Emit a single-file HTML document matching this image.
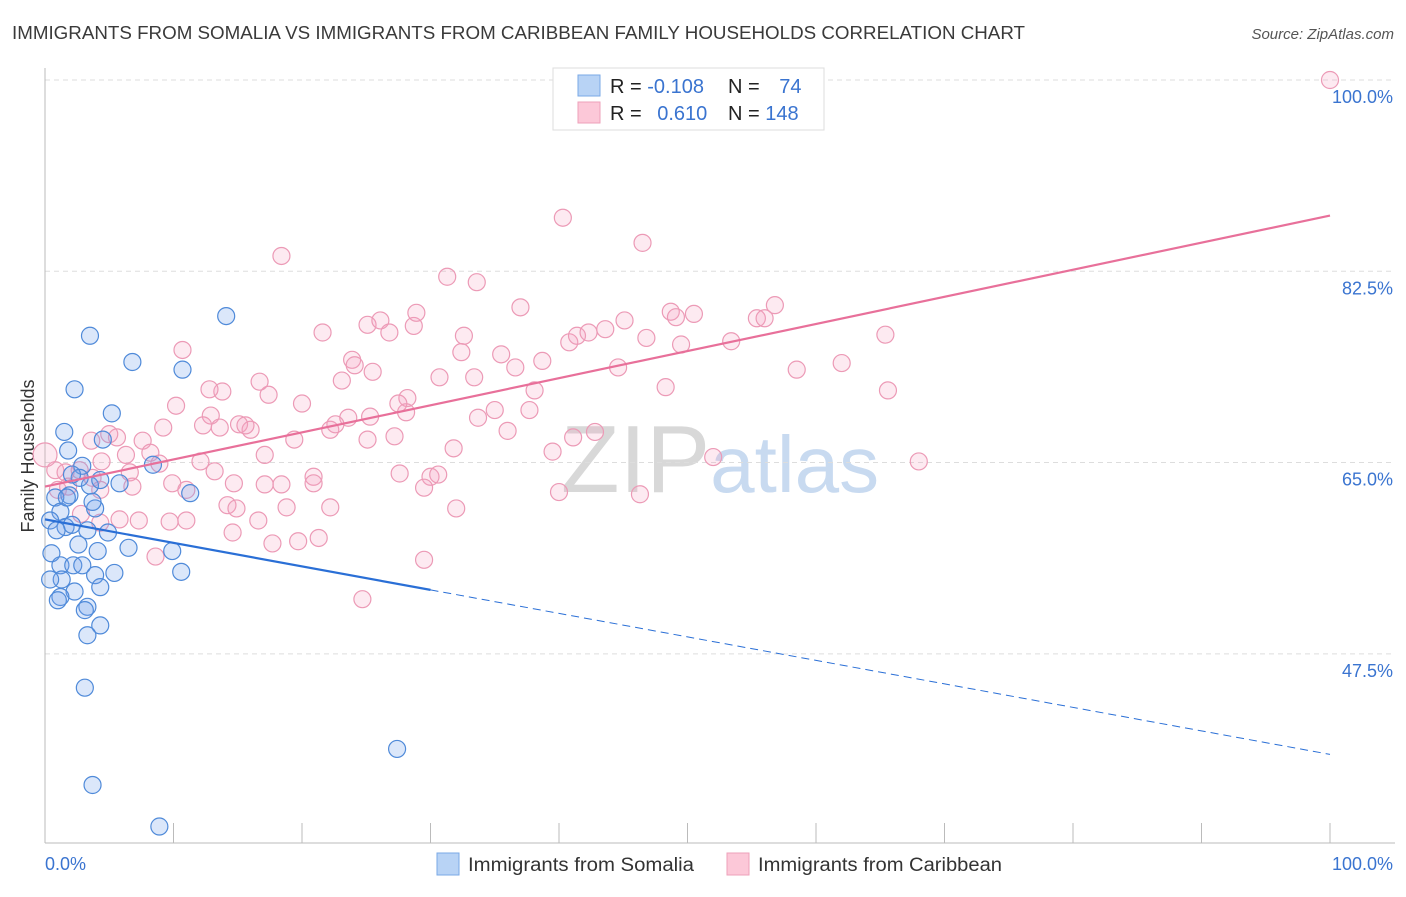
<!DOCTYPE html>
<html><head><meta charset="utf-8"><style>
body{margin:0;background:#fff;font-family:"Liberation Sans",sans-serif;}
svg text{font-family:"Liberation Sans",sans-serif;}
</style></head><body>
<svg id="chart" width="1406" height="892" viewBox="0 0 1406 892">
<text x="12" y="39" font-size="18" fill="#3a3a3a" textLength="1013" lengthAdjust="spacingAndGlyphs">IMMIGRANTS FROM SOMALIA VS IMMIGRANTS FROM CARIBBEAN FAMILY HOUSEHOLDS CORRELATION CHART</text>
<text x="1394" y="39" font-size="15" fill="#555" font-style="italic" text-anchor="end">Source: ZipAtlas.com</text>
<text x="34" y="456" font-size="18" fill="#333" text-anchor="middle" transform="rotate(-90 34 456)">Family Households</text>
<text x="720" y="492" font-size="96" fill="#d8d8d8" text-anchor="middle" font-family="Liberation Serif">ZIP<tspan fill="#c8daf0" font-family="Liberation Sans" font-size="80">atlas</tspan></text>
<g id="grid"></g><g id="axes"></g><g id="pts"></g><g id="lines"></g>
<g>
<rect x="553" y="68" width="271" height="62" fill="#fff" stroke="#ddd"/>
<rect x="578" y="75" width="22" height="21" fill="#b8d3f5" stroke="#7aa8e6"/>
<rect x="578" y="102" width="22" height="21" fill="#fcc8d8" stroke="#eea0ba"/>
<text x="610" y="93" font-size="20" fill="#222">R = <tspan fill="#3a74d0">-0.108</tspan></text>
<text x="728" y="93" font-size="20" fill="#222">N = <tspan fill="#3a74d0" dx="14">74</tspan></text>
<text x="610" y="120" font-size="20" fill="#222">R = <tspan fill="#3a74d0" dx="10">0.610</tspan></text>
<text x="728" y="120" font-size="20" fill="#222">N = <tspan fill="#3a74d0">148</tspan></text>
</g>
<g>
<rect x="437" y="853" width="22" height="22" fill="#b8d3f5" stroke="#7aa8e6"/>
<text x="468" y="871" font-size="19" fill="#333" textLength="226" lengthAdjust="spacingAndGlyphs">Immigrants from Somalia</text>
<rect x="727" y="853" width="22" height="22" fill="#fcc8d8" stroke="#eea0ba"/>
<text x="758" y="871" font-size="19" fill="#333" textLength="244" lengthAdjust="spacingAndGlyphs">Immigrants from Caribbean</text>
</g>
</svg>
<script>
const yTicks=[100,82.5,65,47.5];
const yTickLabels=["100.0%","82.5%","65.0%","47.5%"];
const xTickLabels=["0.0%","100.0%"];
const somaliaX=[3.5,6.8,14.1,10.7,2.3,5.2,1.5,4.5,1.8,8.4,2.9,5.8,11.3,3.5,1.9,0.8,3.9,1.2,0.4,1.6,2.1,3.3,4.9,0.5,2.6,4.1,6.5,9.9,1.2,2.2,2.9,5.4,10.6,3.9,1.3,0.4,4.3,2.3,1.2,3.3,3.1,4.3,3.3,3.1,27.4,3.7,8.9,1.0,1.7,2.7,4.3,2.1,3.7,0.9];
const somaliaY=[76.6,74.2,78.4,73.5,71.7,69.5,67.8,67.1,66.1,64.8,64.7,63.1,62.2,62.9,62.0,61.8,60.8,60.5,59.7,59.1,59.3,58.8,58.6,56.7,57.5,56.9,57.2,56.9,55.6,55.6,55.6,54.9,55.0,54.7,54.3,54.3,53.6,53.2,52.7,51.8,51.5,50.1,49.2,44.4,38.8,35.5,31.7,52.4,61.8,63.6,63.4,63.9,61.4,58.8];
const caribX=[100,40.3,46.5,18.4,31.3,33.6,37.0,21.6,25.1,26.1,26.8,28.7,28.9,32.6,32.4,35.5,36.6,38.7,40.8,41.4,42.3,43.6,45.1,46.8,48.7,49.1,49.5,50.5,53.4,55.4,56.0,56.8,58.5,62.0,65.4,65.6,68.0,52.0,48.3,44.6,38.1,37.7,35.0,36.0,33.7,30.7,33.4,31.8,28.1,28.2,27.5,25.5,23.9,24.1,23.1,23.6,22.2,22.6,25.1,27.2,25.3,20.0,19.4,17.4,16.7,13.8,12.8,10.7,10.2,12.9,12.3,13.6,15.1,16.0,17.1,15.6,9.2,5.6,7.6,5.0,3.6,6.3,8.2,8.9,12.1,13.2,14.7,17.1,18.4,20.9,20.9,27.6,30.0,30.6,29.5,32.0,22.2,18.8,16.6,14.2,14.6,11.0,9.7,7.3,5.8,4.3,2.8,0.8,1.6,2.7,3.7,4.4,6.6,6.8,9.9,11.0,14.9,17.7,19.7,21.3,8.6,24.7,29.5,40.0,46.3,39.5,41.1,42.8,1.0,1.8,4.3,0];
const caribY=[100,87.4,85.1,83.9,82.0,81.5,79.2,76.9,77.6,78.0,76.9,77.5,78.7,76.6,75.1,74.9,73.7,74.3,76.0,76.6,76.9,77.2,78.0,76.4,78.8,78.3,75.8,78.6,76.1,78.2,78.2,79.4,73.5,74.1,76.7,71.6,65.1,65.5,71.9,73.7,71.6,69.8,69.8,67.9,69.1,72.8,72.8,66.3,69.6,70.9,70.4,73.3,74.4,73.9,72.5,69.1,68.0,68.5,67.1,67.4,69.2,70.4,67.1,71.2,72.4,71.5,71.7,75.3,70.2,69.3,68.4,68.2,68.5,68.0,65.7,68.4,68.2,67.3,67.0,67.6,67.0,65.7,65.9,64.9,65.1,64.2,63.1,63.0,63.0,63.7,63.1,64.0,63.7,63.9,62.7,60.8,60.9,60.9,59.7,61.1,58.6,59.7,59.6,59.7,59.8,59.5,60.3,64.3,64.1,64.3,63.6,65.1,64.1,62.8,63.1,62.5,60.8,57.6,57.8,58.1,56.4,52.5,56.1,62.3,62.1,66.0,67.3,67.8,62.5,62.8,62.5,65.7];
const caribTrend=[62.8,87.6];
const somaliaTrend=[59.8,38.3];
const somaliaSolidEnd=30;
const NS="http://www.w3.org/2000/svg";
function X(v){return 45+v*12.85;}
function Y(v){return 80+(100-v)*10.93;}
function mk(tag,attrs,parent){const e=document.createElementNS(NS,tag);for(const k in attrs)e.setAttribute(k,attrs[k]);document.getElementById(parent).appendChild(e);return e;}
yTicks.forEach((t,i)=>{
 let g=mk('line',{x1:45,x2:1395,y1:Y(t),y2:Y(t),stroke:'#ddd','stroke-dasharray':'5,4'},'grid');
 
 
 let tx=mk('text',{x:1393,y:Y(t)+23,'font-size':18,fill:'#3a74d0','text-anchor':'end'},'grid');
 tx.textContent=yTickLabels[i];
 
 
});
let a1=mk('line',{x1:45,x2:45,y1:68,y2:843,stroke:'#bbb'},'axes');


let a2=mk('line',{x1:45,x2:1395,y1:843,y2:843,stroke:'#bbb'},'axes');


for(let i=0;i<=10;i++){
 let t=mk('line',{x1:X(i*10),x2:X(i*10),y1:823,y2:843,stroke:'#bbb'},'axes');
 
 
}
[[0,'start',45],[1,'end',1393]].forEach(([i,anc,x])=>{
 let t=mk('text',{x:x,y:870,'font-size':18,fill:'#3a74d0','text-anchor':anc},'axes');
 t.textContent=xTickLabels[i];
 
 
});
caribX.forEach((v,i)=>{
 let c=mk('circle',{cx:X(v),cy:Y(caribY[i]),r:(i===caribX.length-1?12:8.5),fill:'rgba(246,160,190,0.22)',stroke:'#ec9ab6','stroke-width':1.2},'pts');
 
 
});
somaliaX.forEach((v,i)=>{
 let c=mk('circle',{cx:X(v),cy:Y(somaliaY[i]),r:8.5,fill:'rgba(110,160,235,0.25)',stroke:'#4f8ad9','stroke-width':1.2},'pts');
 
 
});
let pl=mk('line',{x1:X(0),y1:Y(caribTrend[0]),x2:X(100),y2:Y(caribTrend[1]),stroke:'#e8709a','stroke-width':2.2},'lines');


const sm=somaliaTrend[0]+(somaliaTrend[1]-somaliaTrend[0])*somaliaSolidEnd/100;
let bl=mk('line',{x1:X(0),y1:Y(somaliaTrend[0]),x2:X(somaliaSolidEnd),y2:Y(sm),stroke:'#2a6fd6','stroke-width':2.2},'lines');


let bd=mk('line',{x1:X(somaliaSolidEnd),y1:Y(sm),x2:X(100),y2:Y(somaliaTrend[1]),stroke:'#2a6fd6','stroke-width':1,'stroke-dasharray':'8,5'},'lines');


</script>
</body></html>
